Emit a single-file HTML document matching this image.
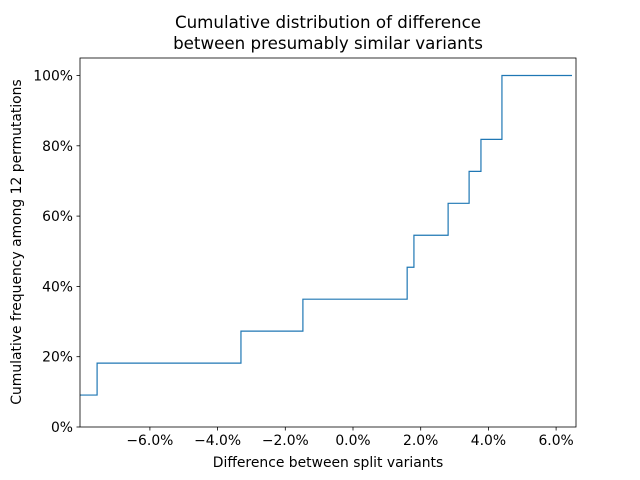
<!DOCTYPE html>
<html><head><meta charset="utf-8"><style>
html,body{margin:0;padding:0;background:#fff}
svg{display:block;font-family:"DejaVu Sans","Liberation Sans",sans-serif}
</style></head><body>
<svg id="chart" width="640" height="480">
<text x="328" y="28" text-anchor="middle" font-size="16.7">Cumulative distribution of difference</text>
<text x="328" y="49" text-anchor="middle" font-size="16.7">between presumably similar variants</text>
<g id="xt"></g>
<g id="yt"></g>
<path id="line" fill="none" stroke="#1f77b4" stroke-width="1.2"></path>
<rect x="80" y="58" width="496" height="369" fill="none" stroke="#000" stroke-width="0.8"></rect>
<text x="328" y="467" text-anchor="middle" font-size="13.9">Difference between split variants</text>
<text transform="translate(21,242) rotate(-90)" text-anchor="middle" font-size="13.9">Cumulative frequency among 12 permutations</text>
</svg>
<script>
const jumpX = [-7.56, -3.31, -1.48, 1.60, 1.80, 2.81, 3.43, 3.78, 4.40];
const levels = [9.09, 18.18, 27.27, 36.36, 45.45, 54.55, 63.64, 72.73, 81.82, 100];
const xTicks = [-6, -4, -2, 0, 2, 4, 6];
const yTicks = [0, 20, 40, 60, 80, 100];
const xEnd = 6.47;
const L=80,R=576,T=58,B=427;
const sx = v => 353 + v*33.85;
const sy = v => 427 - v*3.515;
const ns="http://www.w3.org/2000/svg";
let d = `M${L},${sy(levels[0])}`;
jumpX.forEach((x,i)=>{ d += ` H${sx(x)} V${sy(levels[i+1])}`; });
d += ` H${sx(xEnd)}`;
document.getElementById('line').setAttribute('d', d);
const xt=document.getElementById('xt'), yt=document.getElementById('yt');
xTicks.forEach(v=>{
  const x=sx(v);
  const l=document.createElementNS(ns,'line');
  l.setAttribute('x1',x);l.setAttribute('x2',x);l.setAttribute('y1',B);l.setAttribute('y2',B+3.5);l.setAttribute('stroke','#000');l.setAttribute('stroke-width','0.8');
  
  
  xt.appendChild(l);
  const t=document.createElementNS(ns,'text');
  t.setAttribute('x',x);t.setAttribute('y',B+18);t.setAttribute('text-anchor','middle');t.setAttribute('font-size','13.9');
  t.textContent=(v<0?'\u2212':'')+Math.abs(v).toFixed(1)+'%';
  
  
  xt.appendChild(t);
});
yTicks.forEach(v=>{
  const y=sy(v);
  const l=document.createElementNS(ns,'line');
  l.setAttribute('x1',L-3.5);l.setAttribute('x2',L);l.setAttribute('y1',y);l.setAttribute('y2',y);l.setAttribute('stroke','#000');l.setAttribute('stroke-width','0.8');
  
  
  yt.appendChild(l);
  const t=document.createElementNS(ns,'text');
  t.setAttribute('x',L-7);t.setAttribute('y',y+5);t.setAttribute('text-anchor','end');t.setAttribute('font-size','13.9');
  t.textContent=v+'%';
  
  
  yt.appendChild(t);
});
</script>
</body></html>
